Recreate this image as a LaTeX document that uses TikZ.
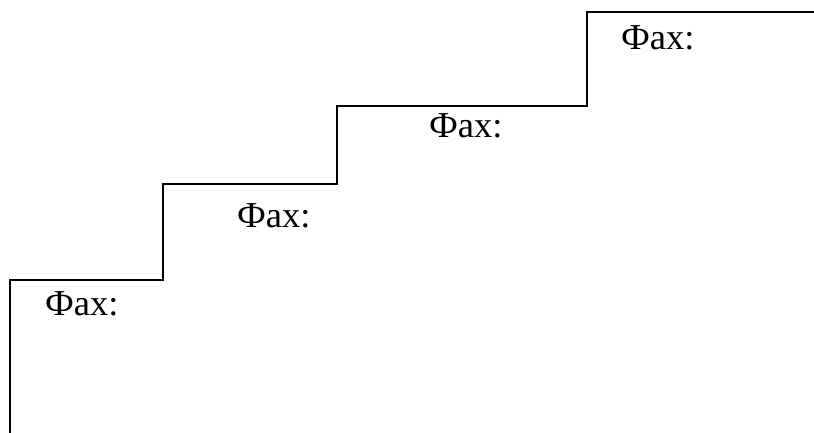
\documentclass[tikz,border=0pt]{standalone}
\usepackage{fontspec}
\setmainfont{Liberation Serif}
\begin{document}
\begin{tikzpicture}[x=1pt,y=-1pt,
  stair/.style={draw=black,line width=1.8pt,line join=miter},
  lbl/.style={anchor=base west,inner sep=0pt,outer sep=0pt,font=\fontsize{36.5}{40}\selectfont}]
\useasboundingbox (0,0) rectangle (814,433);
\coordinate (s0) at (10,433);
\coordinate (s1) at (10,280);
\coordinate (s2) at (163,280);
\coordinate (s3) at (163,184);
\coordinate (s4) at (337,184);
\coordinate (s5) at (337,106);
\coordinate (s6) at (587,106);
\coordinate (s7) at (587,12);
\coordinate (s8) at (814,12);
\draw[stair] (s0) -- (s1) -- (s2) -- (s3) -- (s4) -- (s5) -- (s6) -- (s7) -- (s8);
\node[lbl] (l1) at (45,315) {Фах:};
\node[lbl] (l2) at (237,227) {Фах:};
\node[lbl] (l3) at (429,138) {Фах:};
\node[lbl] (l4) at (621,50) {Фах:};
\end{tikzpicture}
\end{document}
